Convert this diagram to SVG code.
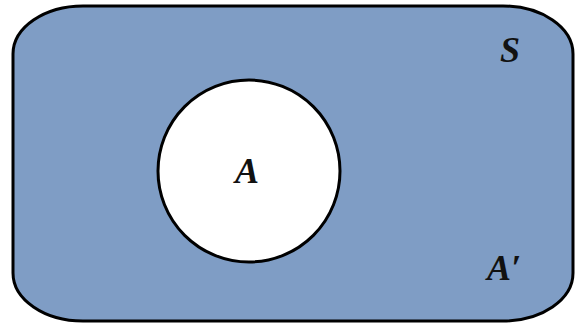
<svg xmlns="http://www.w3.org/2000/svg" width="577" height="330" viewBox="0 0 577 330">
<style>
.lbl{font-family:"Liberation Serif","Times New Roman",serif;font-weight:bold;font-style:italic;font-size:36px;fill:#111;text-anchor:middle}
</style>
<rect width="577" height="330" fill="#ffffff"/>
<g id="S">
<rect x="13" y="6" width="560" height="315" rx="70" ry="48" fill="#7f9dc5" stroke="#000" stroke-width="3"/>
<text class="lbl" x="510" y="62">S</text>
</g>
<g id="A">
<circle cx="249" cy="171" r="91" fill="#ffffff" stroke="#000" stroke-width="3"/>
<text class="lbl" x="247" y="183">A</text>
</g>
<g id="Acomp">
<text class="lbl" x="504" y="280">A′</text>
</g>
<g id="connectors"/>
</svg>
